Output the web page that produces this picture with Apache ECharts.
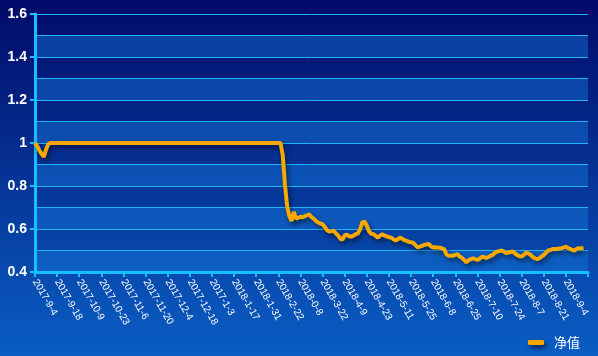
<!DOCTYPE html>
<html>
<head>
<meta charset="utf-8">
<script src="https://cdn.jsdelivr.net/npm/echarts@6/dist/echarts.min.js"></script>
<style>
html,body{margin:0;padding:0;width:598px;height:356px;overflow:hidden;}
#chart{width:598px;height:356px;}
</style>
</head>
<body>
<div id="chart"></div>
<script>
// tick labels shown every 10 trading days (as printed in the original)
const tickLabels = ['2017-9-4','2017-9-18','2017-10-9','2017-10-23','2017-11-6','2017-11-20','2017-12-4','2017-12-18','2017-1-3','2018-1-17','2018-1-31','2018-2-22','2018-0-8','2018-3-22','2018-4-9','2018-4-23','2018-5-11','2018-5-25','2018-6-8','2018-6-25','2018-7-10','2018-7-24','2018-8-7','2018-8-21','2018-9-4'];
const categoryCount = 251;
const seriesName = '净值';
const yTickValues = [0.4, 0.6, 0.8, 1, 1.2, 1.4, 1.6];
// net value, one point per trading day
const netValues = [
 1, 0.985, 0.965, 0.95, 0.935, 0.97, 0.995,
 1,1,1,1,1,1,1,1,1,1,1,1,1,1,1,
 1,1,1,1,1,1,1,1,1,1,1,1,1,1,1,
 1,1,1,1,1,1,1,1,1,1,1,1,1,1,1,
 1,1,1,1,1,1,1,1,1,1,1,1,1,1,1,
 1,1,1,1,1,1,1,1,1,1,1,1,1,1,1,
 1,1,1,1,1,1,1,1,1,1,1,1,1,1,1,
 1,1,1,1,1,1,1,1,1,1,1,1,1,1,1,
 0.944, 0.805, 0.705, 0.66, 0.637, 0.68, 0.648, 0.652, 0.657, 0.655,
 0.66, 0.664, 0.668, 0.655, 0.648, 0.638, 0.63, 0.625, 0.622, 0.61,
 0.595, 0.588, 0.59, 0.592, 0.58, 0.57, 0.555, 0.55, 0.57, 0.574,
 0.566, 0.564, 0.57, 0.576, 0.58, 0.6, 0.632, 0.634, 0.615, 0.59,
 0.578, 0.576, 0.568, 0.56, 0.57, 0.575, 0.57, 0.566, 0.562, 0.56,
 0.553, 0.546, 0.552, 0.56, 0.555, 0.548, 0.545, 0.54, 0.538, 0.536,
 0.525, 0.515, 0.518, 0.522, 0.526, 0.528, 0.53, 0.52, 0.514, 0.515,
 0.514, 0.513, 0.51, 0.506, 0.482, 0.476, 0.476, 0.476, 0.48, 0.483,
 0.472, 0.466, 0.456, 0.445, 0.455, 0.46, 0.464, 0.46, 0.456, 0.462,
 0.47, 0.47, 0.465, 0.47, 0.476, 0.48, 0.49, 0.495, 0.498, 0.5,
 0.495, 0.488, 0.49, 0.494, 0.495, 0.486, 0.479, 0.474, 0.472, 0.48,
 0.49, 0.486, 0.48, 0.47, 0.464, 0.46, 0.464, 0.472, 0.479, 0.49,
 0.5, 0.503, 0.507, 0.507, 0.507, 0.509, 0.511, 0.514, 0.518, 0.512,
 0.507, 0.502, 0.5, 0.508, 0.511, 0.51, 0.511
];

const categories = [];
for (let i = 0; i < categoryCount; i++) categories.push(String(i));

const chart = echarts.init(document.getElementById('chart'), null, {renderer: 'canvas'});
const cyan = '#14c0ff';
chart.setOption({
  animation: false,
  backgroundColor: new echarts.graphic.LinearGradient(0, 0, 0, 1, [
    {offset: 0, color: '#010a68'},
    {offset: 1, color: '#0a5ec4'}
  ]),
  grid: {left: 35, right: 10, top: 14, bottom: 84, containLabel: false},
  legend: {
    data: [seriesName],
    right: 13, bottom: 2,
    icon: 'roundRect', itemWidth: 16, itemHeight: 5, itemGap: 8,
    textStyle: {color: '#ffffff', fontSize: 13, fontFamily: 'Noto Sans CJK SC', padding: [0, 0, 0, 5]},
    itemStyle: {shadowColor: 'rgba(0,0,0,0.6)', shadowBlur: 4, shadowOffsetX: 2, shadowOffsetY: 3}
  },
  xAxis: {
    type: 'category',
    data: categories,
    boundaryGap: false,
    axisLine: {show: true, lineStyle: {color: cyan, width: 3}},
    axisTick: {show: true, interval: 9, length: 5, lineStyle: {color: cyan, width: 2}},
    axisLabel: {
      interval: 9, rotate: -60, margin: 8,
      color: '#ffffff', fontSize: 10, fontFamily: 'Liberation Sans',
      formatter: function (v, idx) { return idx % 10 === 0 ? (tickLabels[idx / 10] || '') : ''; }
    },
    splitLine: {show: false}
  },
  yAxis: [
    {
      type: 'value', min: 0.4, max: 1.6, interval: 0.2,
      axisLine: {show: true, lineStyle: {color: cyan, width: 3}},
      axisTick: {show: true, length: 5, lineStyle: {color: cyan, width: 2}},
      axisLabel: {
        color: '#ffffff', fontSize: 14, fontWeight: 'bold', fontFamily: 'Liberation Sans', margin: 8,
        formatter: function (v) {
          for (const t of yTickValues) if (Math.abs(t - v) < 1e-6) return String(t);
          return '';
        }
      },
      splitLine: {show: false}
    },
    {
      type: 'value', min: 0.4, max: 1.6, interval: 0.1, position: 'left',
      axisLine: {show: false}, axisTick: {show: false}, axisLabel: {show: false},
      splitLine: {show: true, lineStyle: {color: '#21b6f2', width: 1}},
      splitArea: {show: true, areaStyle: {color: ['rgba(20,120,220,0.45)', 'rgba(0,0,0,0)']}}
    }
  ],
  series: [{
    name: seriesName,
    type: 'line',
    yAxisIndex: 0,
    data: netValues,
    showSymbol: false,
    symbol: 'none',
    color: '#f6a800',
    lineStyle: {width: 4, color: '#f6a800', shadowColor: 'rgba(0,0,0,0.55)', shadowBlur: 5, shadowOffsetX: 2, shadowOffsetY: 3},
    z: 5
  }]
});
</script>
</body>
</html>
